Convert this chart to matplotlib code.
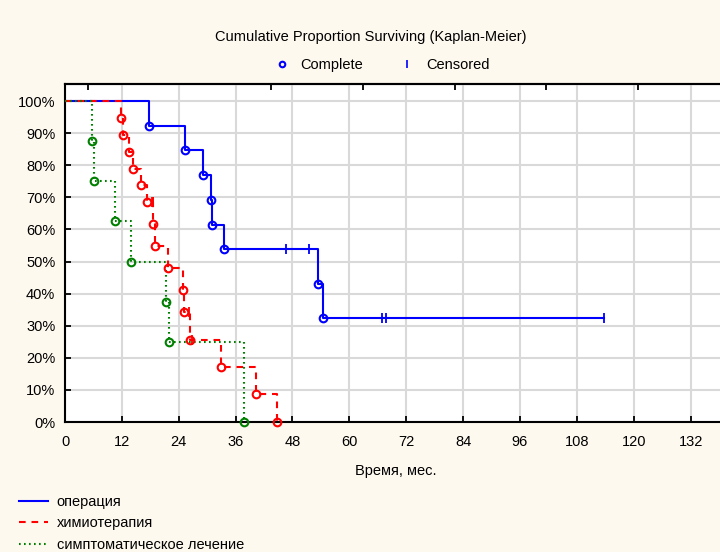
import matplotlib
matplotlib.use('Agg')
import matplotlib.pyplot as plt
from matplotlib.lines import Line2D
import numpy as np

plt.rcParams['font.family'] = ['Liberation Sans', 'DejaVu Sans']
plt.rcParams['font.size'] = 10.5

# операция (blue)
op_death_t = [17.8, 25.3, 29.2, 30.8, 31.0, 33.6, 53.4, 54.5]
op_death_s = [92.3, 84.6, 76.9, 69.2, 61.5, 53.8, 43.1, 32.3]
op_cens_t = [46.6, 51.5, 66.9, 67.7, 113.8]
op_cens_s = [53.8, 53.8, 32.3, 32.3, 32.3]

# химиотерапия (red)
chem_death_t = [11.8, 12.2, 13.5, 14.3, 16.0, 17.2, 18.6, 18.9, 21.8, 24.9, 25.2, 26.3, 32.9, 40.3, 44.8]
chem_death_s = [94.7, 89.5, 84.2, 78.9, 73.7, 68.4, 61.6, 54.7, 47.9, 41.0, 34.2, 25.7, 17.1, 8.6, 0.0]
chem_cens_t = [18.4, 18.5, 18.5, 26.2, 26.7]
chem_cens_s = [68.4, 68.4, 68.4, 34.2, 25.7]

# симптоматическое лечение (green)
sym_death_t = [5.8, 6.2, 10.5, 13.9, 21.4, 21.9, 37.7]
sym_death_s = [87.5, 75.0, 62.5, 50.0, 37.5, 25.0, 0.0]
sym_cens_t = []
sym_cens_s = []

groups = ['операция', 'химиотерапия', 'симптоматическое лечение']
x_ticks = list(range(0, 133, 12))
y_ticks = list(range(0, 101, 10))

bg = '#fef9ef'
LW = 1.5
DASH = (0, (3.2, 2.8))
DOT = (0, (0.8, 1.6))

fig = plt.figure(figsize=(7.2, 5.52), dpi=100)
fig.patch.set_facecolor(bg)
ax = fig.add_axes([65/720, 1 - 422/552, 655/720, 338/552])
ax.set_facecolor('white')


def km_line(ax, dt, ds, ct, cs, color, ls):
    end = max(dt + ct)
    xs = [0] + dt + [end]
    ys = [100] + ds + [ds[-1]]
    ax.step(xs, ys, where='post', color=color, lw=LW, ls=ls, zorder=3)
    ax.plot(dt, ds, 'o', mfc='none', mec=color, ms=5.5, mew=1.5, zorder=4, clip_on=False)
    if ct:
        ax.plot(ct, cs, '|', color=color, ms=7, mew=1.3, zorder=4, clip_on=False)


km_line(ax, op_death_t, op_death_s, op_cens_t, op_cens_s, '#0000ff', '-')
km_line(ax, chem_death_t, chem_death_s, chem_cens_t, chem_cens_s, '#ff0000', DASH)
km_line(ax, sym_death_t, sym_death_s, sym_cens_t, sym_cens_s, '#008000', DOT)

ax.set_xlim(0, 138.2)
ax.set_ylim(0, 105.3)
ax.set_xticks(x_ticks)
ax.set_yticks(y_ticks)
ax.set_yticklabels([f'{v}%' for v in y_ticks])
ax.grid(True, color='#d9d9d9', lw=1.5, zorder=0)
ax.set_axisbelow(True)
ax.tick_params(direction='in', length=4, width=1.3, color='black', pad=7)
ax.tick_params(axis='x', pad=9)
ax.spines['right'].set_visible(False)
for s in ['left', 'top', 'bottom']:
    ax.spines[s].set_linewidth(1.5)

# odd ticks on top edge
top = ax.secondary_xaxis('top')
top.set_xticks(np.arange(4.8, 138, 19.35))
top.tick_params(direction='in', length=4, width=1.3, labeltop=False)
top.spines['top'].set_linewidth(1.5)

fig.text(371/720, 1 - 37/552, 'Cumulative Proportion Surviving (Kaplan-Meier)',
         ha='center', va='center', fontsize=10.5)
fig.text(396/720, 1 - 471/552, 'Время, мес.', ha='center', va='center', fontsize=10.5)

mk = [Line2D([], [], marker='o', ls='none', mfc='none', mec='#0000ff', ms=4, mew=1.5),
      Line2D([], [], marker='|', ls='none', color='#0000ff', ms=6, mew=1.2)]
fig.legend(mk, ['Complete', 'Censored'], loc='center', bbox_to_anchor=(382/720, 1 - 65/552),
           ncol=2, frameon=False, handlelength=1, columnspacing=2.5, handletextpad=0.8,
           fontsize=10.5)

lh = [Line2D([], [], color='#0000ff', lw=LW),
      Line2D([], [], color='#ff0000', lw=LW, ls=DASH),
      Line2D([], [], color='#008000', lw=LW, ls=DOT)]
fig.legend(lh, groups, loc='upper left', bbox_to_anchor=(0.012, 1 - 485/552),
           frameon=False, handlelength=2, handletextpad=0.6, labelspacing=0.5,
           fontsize=10.5, borderaxespad=0.3)

fig.savefig('out.png', dpi=100, facecolor=bg)
